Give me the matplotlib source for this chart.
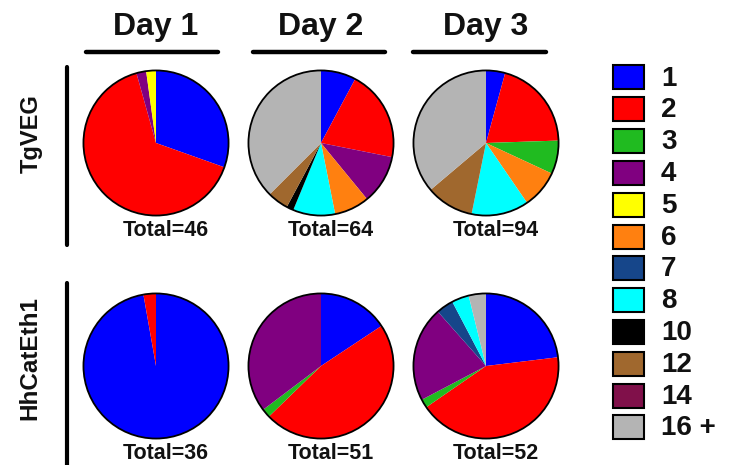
import matplotlib
matplotlib.use("Agg")
import matplotlib.pyplot as plt
from matplotlib.patches import Circle, Rectangle

plt.rcParams['font.family'] = ['Liberation Sans', 'DejaVu Sans']
plt.rcParams['font.weight'] = 'bold'

# colony size classes and their colours
categories = ['1', '2', '3', '4', '5', '6', '7', '8', '10', '12', '14', '16 +']
colors = ['#0000FF', '#FF0000', '#20BB20', '#800080', '#FFFF00', '#FF8010',
          '#16468A', '#00FFFF', '#000000', '#A0682E', '#80104A', '#B4B4B4']

days = ['Day 1', 'Day 2', 'Day 3']
strains = ['TgVEG', 'HhCatEth1']

# counts per size class
tgveg_day1 = [14, 30, 0, 1, 1, 0, 0, 0, 0, 0, 0, 0]
tgveg_day2 = [5, 13, 0, 7, 0, 5, 0, 6, 1, 3, 0, 24]
tgveg_day3 = [4, 19, 7, 0, 0, 8, 0, 12, 0, 10, 0, 34]
hhcat_day1 = [35, 1, 0, 0, 0, 0, 0, 0, 0, 0, 0, 0]
hhcat_day2 = [8, 24, 1, 18, 0, 0, 0, 0, 0, 0, 0, 0]
hhcat_day3 = [12, 22, 1, 11, 0, 0, 2, 2, 0, 0, 0, 2]

counts = [[tgveg_day1, tgveg_day2, tgveg_day3],
          [hhcat_day1, hhcat_day2, hhcat_day3]]

W, H = 737, 465
fig = plt.figure(figsize=(W / 100, H / 100), dpi=100)

# pixel-coordinate overlay for lines and labels
ov = fig.add_axes([0, 0, 1, 1])
ov.set_xlim(0, W)
ov.set_ylim(H, 0)
ov.axis('off')

col_x = [156, 321, 486]
row_y = [143, 366]
r = 74

for i, row in enumerate(counts):
    for j, vals in enumerate(row):
        cx, cy = col_x[j], row_y[i]
        ax = fig.add_axes([(cx - r) / W, 1 - (cy + r) / H, 2 * r / W, 2 * r / H])
        v = [x for x in vals if x > 0]
        c = [colors[k] for k, x in enumerate(vals) if x > 0]
        ax.pie(v, colors=c, startangle=90, counterclock=False, radius=1,
               wedgeprops=dict(linewidth=0))
        ax.add_patch(Circle((0, 0), 1, fill=False, ec='black', lw=1.3))
        ax.set_xlim(-1.02, 1.02)
        ax.set_ylim(-1.02, 1.02)
        ax.set_aspect('equal')
        ax.axis('off')
        ov.text(cx + 10, cy + 87, 'Total=%d' % sum(vals), ha='center', va='center',
                fontsize=15.5, fontweight='bold', color='#111111')

# day headers with underline
day_lines = [(86, 218), (253, 385), (413, 546)]
for j, d in enumerate(days):
    ov.text(col_x[j], 27, d, ha='center', va='center', fontsize=23,
            fontweight='bold', color='#111111')
    ov.plot(day_lines[j], [52, 52], color='black', lw=3.2, solid_capstyle='round')

# strain labels with vertical bars
ov.text(31, 134, strains[0], rotation=90, ha='center', va='center', fontsize=17,
        fontweight='bold', color='#111111')
ov.plot([67, 67], [67, 245], color='black', lw=3, solid_capstyle='round')
ov.text(30, 358, strains[1], rotation=90, ha='center', va='center', fontsize=17.5,
        fontweight='bold', color='#111111')
ov.plot([67, 67], [283, 465], color='black', lw=3, solid_capstyle='round')

# legend
for k, (lab, col) in enumerate(zip(categories, colors)):
    y = 77.5 + k * 31.8
    ov.add_patch(Rectangle((613, y - 12), 31, 24, fc=col, ec='black', lw=1.5))
    ov.text(661, y + 1, lab, ha='left', va='center', fontsize=20,
            fontweight='bold', color='#111111')

fig.savefig('out.png', dpi=100)
